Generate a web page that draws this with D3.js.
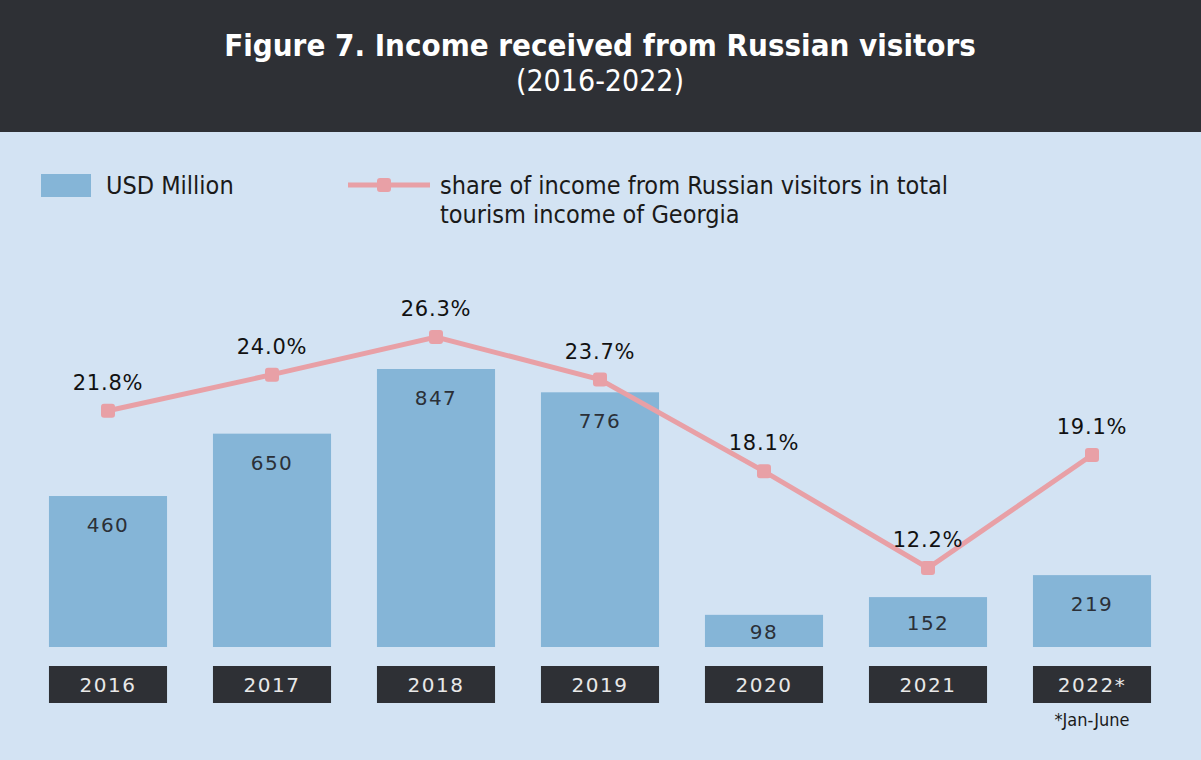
<!DOCTYPE html>
<html><head><meta charset="utf-8">
<script src="https://cdn.jsdelivr.net/npm/d3@7"></script>
<style>body{margin:0;background:#d3e3f3;} svg{display:block}</style>
</head><body>
<script>
const years = ["2016","2017","2018","2019","2020","2021","2022*"];
const income = [460, 650, 847, 776, 98, 152, 219];
const share = [21.8, 24.0, 26.3, 23.7, 18.1, 12.2, 19.1];
const shareLabels = ["21.8%","24.0%","26.3%","23.7%","18.1%","12.2%","19.1%"];

const W = 1201, H = 760;
const svg = d3.select("body").append("svg").attr("width", W).attr("height", H);
svg.append("rect").attr("width", W).attr("height", H).attr("fill", "#d3e3f3");
svg.append("rect").attr("width", W).attr("height", 132).attr("fill", "#2e3035");
const font = "'DejaVu Sans Condensed','DejaVu Sans',sans-serif";
svg.append("text").attr("x", 600).attr("y", 56).attr("text-anchor","middle")
  .attr("fill","#fff").attr("font-family",font).attr("font-weight","bold").attr("font-size",31)
  .text("Figure 7. Income received from Russian visitors");
svg.append("text").attr("x", 600).attr("y", 91).attr("text-anchor","middle")
  .attr("fill","#fff").attr("font-family",font).attr("font-size",30).attr("font-weight",300)
  .text("(2016-2022)");

// legend
svg.append("rect").attr("x",41).attr("y",174).attr("width",50).attr("height",23).attr("fill","#85b5d7");
svg.append("text").attr("x",106).attr("y",194).attr("font-family",font).attr("font-size",25).attr("fill","#1a1a1a").text("USD Million");
svg.append("line").attr("x1",348).attr("x2",430).attr("y1",185).attr("y2",185).attr("stroke","#e8a0a6").attr("stroke-width",5);
svg.append("rect").attr("x",377).attr("y",178).attr("width",14).attr("height",14).attr("rx",3).attr("fill","#e8a0a6");
svg.append("text").attr("x",440).attr("y",194).attr("font-family",font).attr("font-size",25).attr("fill","#1a1a1a").text("share of income from Russian visitors in total");
svg.append("text").attr("x",440).attr("y",223).attr("font-family",font).attr("font-size",25).attr("fill","#1a1a1a").text("tourism income of Georgia");

const x = d3.scaleBand().domain(years).range([26, 1174]).paddingInner(0.28).paddingOuter(0.14);
const y = d3.scaleLinear().domain([0, 847]).range([647, 369]);
const y2 = d3.scaleLinear().domain([12.2, 26.3]).range([568, 337]);

const numFont = "'DejaVu Sans','Open Sans',sans-serif";
const g = svg.append("g");
g.selectAll("rect.bar").data(income).join("rect").attr("class","bar")
  .attr("x",(d,i)=>x(years[i])).attr("width",x.bandwidth())
  .attr("y",d=>y(d)).attr("height",d=>y(0)-y(d)).attr("fill","#85b5d7");
g.selectAll("text.val").data(income).join("text").attr("class","val")
  .attr("x",(d,i)=>x(years[i])+x.bandwidth()/2)
  .attr("y",d=>Math.min(y(d)+29, (y(d)+y(0))/2 + 1) + 7)
  .attr("text-anchor","middle").attr("font-family",numFont).attr("font-size",20)
  .attr("letter-spacing",1.5).attr("fill","#2b3038").text(d=>d);

// year boxes
g.selectAll("rect.yr").data(years).join("rect").attr("class","yr")
  .attr("x",d=>x(d)).attr("width",x.bandwidth()).attr("y",666).attr("height",37).attr("fill","#2e3035");
g.selectAll("text.yr").data(years).join("text").attr("class","yr")
  .attr("x",d=>x(d)+x.bandwidth()/2).attr("y",692).attr("text-anchor","middle")
  .attr("font-family",numFont).attr("font-size",20).attr("letter-spacing",1.5).attr("fill","#e8e8e8").text(d=>d);
svg.append("text").attr("x",x(years[6])+x.bandwidth()/2).attr("y",726).attr("text-anchor","middle")
  .attr("font-family",font).attr("font-size",18).attr("fill","#1a1a1a").text("*Jan-June");

// line
const cx = i => x(years[i]) + x.bandwidth()/2;
const line = d3.line().x((d,i)=>cx(i)).y(d=>y2(d));
svg.append("path").attr("d",line(share)).attr("fill","none").attr("stroke","#e8a0a6").attr("stroke-width",5);
svg.selectAll("rect.pt").data(share).join("rect").attr("class","pt")
  .attr("x",(d,i)=>cx(i)-7).attr("y",d=>y2(d)-7).attr("width",14).attr("height",14).attr("rx",3).attr("fill","#e8a0a6");
svg.selectAll("text.pl").data(share).join("text").attr("class","pl")
  .attr("x",(d,i)=>cx(i)).attr("y",d=>y2(d)-21).attr("text-anchor","middle")
  .attr("font-family",numFont).attr("font-size",21).attr("letter-spacing",0.8).attr("fill","#111")
  .text((d,i)=>shareLabels[i]);
</script>
</body></html>
